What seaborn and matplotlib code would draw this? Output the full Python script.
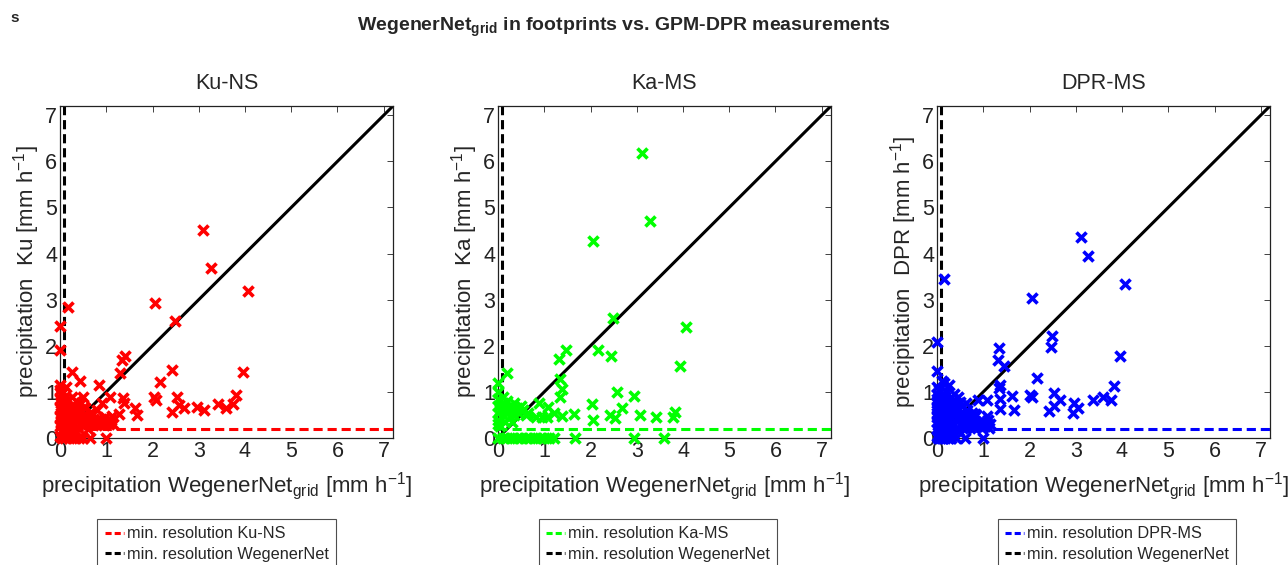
import matplotlib
matplotlib.use("Agg")
import matplotlib.pyplot as plt
import seaborn as sns
import pandas as pd
from matplotlib.lines import Line2D

# ---- data ----
products = ["Ku-NS", "Ka-MS", "DPR-MS"]
short_names = ["Ku", "Ka", "DPR"]
colors = ["#ff0000", "#00ff00", "#0000ff"]
min_res_product = [0.2, 0.2, 0.2]
min_res_wegenernet = 0.08

wegenernet_ku = [3.10, 3.27, 4.06, 2.05, 2.49, 0.17, 0.00, 0.00, 1.40, 1.34, 1.30, 2.43, 0.27, 0.43,
                 0.85, 2.16, 3.96, 1.09, 0.91, 1.36, 1.38, 0.49, 2.03, 2.07, 2.54, 2.43, 2.57, 2.68,
                 2.97, 3.12, 3.41, 3.59, 3.75, 3.80, 1.63, 1.67, 1.27, 0.64, 1.00,
                 0.00, 0.00, 0.02, 0.00, 0.03, 0.00, 0.02, 0.00, 0.03, 0.00, 0.02, 0.00, 0.05, 0.10,
                 0.20, 0.30, 0.40, 0.50, 0.06, 0.08, 0.10, 0.15, 0.20, 0.25, 0.30, 0.35, 0.15, 0.20,
                 0.30, 0.40, 0.45, 0.50, 0.55, 0.60, 0.65, 0.70, 0.75, 0.80, 0.85, 0.90, 0.95, 1.00,
                 1.05, 1.10, 1.15, 0.55, 0.45, 0.35, 0.25, 0.12, 0.18, 0.25, 0.35, 0.40, 0.12, 0.70,
                 0.80, 0.60, 0.65, 0.38, 0.52, 0.58,
                 0.08, 0.12, 0.16, 0.22, 0.28, 0.33, 0.05, 0.10, 0.14, 0.26, 0.42, 0.48, 0.62, 0.72,
                 0.88, 0.98, 1.12, 0.04, 0.09, 0.18, 0.24]
ku = [4.52, 3.69, 3.19, 2.93, 2.53, 2.85, 2.43, 1.90, 1.77, 1.70, 1.41, 1.47, 1.43, 1.24,
      1.14, 1.21, 1.43, 0.88, 0.75, 0.86, 0.75, 0.88, 0.89, 0.82, 0.88, 0.57, 0.71, 0.64,
      0.67, 0.60, 0.73, 0.66, 0.73, 0.93, 0.64, 0.50, 0.53, 0.00, 0.00,
      1.15, 1.05, 0.95, 0.85, 0.75, 0.65, 0.55, 0.45, 0.35, 0.25, 0.15, 0.05, 0.00, 0.00,
      0.00, 0.00, 0.00, 0.00, 1.00, 0.80, 0.60, 0.70, 0.55, 0.65, 0.50, 0.60, 0.45, 0.35,
      0.30, 0.45, 0.35, 0.50, 0.40, 0.30, 0.45, 0.35, 0.30, 0.40, 0.30, 0.35, 0.28, 0.35,
      0.30, 0.40, 0.30, 0.65, 0.75, 0.80, 0.90, 0.20, 0.10, 0.15, 0.10, 0.20, 1.10, 0.55,
      0.60, 0.20, 0.54, 0.62, 0.68, 0.42,
      0.40, 0.30, 0.55, 0.45, 0.72, 0.38, 0.62, 0.88, 0.28, 0.58, 0.62, 0.30, 0.38, 0.28,
      0.42, 0.45, 0.48, 0.30, 0.48, 0.82, 0.28]

wegenernet_ka = [3.11, 3.28, 2.06, 2.49, 4.07, 1.46, 1.31, 2.17, 2.45, 0.19, 0.00, 1.35, 1.38, 1.35,
                 2.57, 2.94, 2.04, 2.06, 2.69, 2.43, 2.54, 3.07, 3.41, 3.78, 3.83, 3.94, 1.64, 1.38,
                 0.88, 1.09, 1.20, 0.83, 0.95, 1.05, 1.67, 2.94, 3.58,
                 0.00, 0.10, 0.20, 0.30, 0.40, 0.50, 0.60, 0.70, 0.80, 0.90, 1.00, 1.10, 1.20,
                 0.00, 0.00, 0.00, 0.00, 0.00, 0.05, 0.05, 0.10, 0.10, 0.15, 0.15, 0.20, 0.20,
                 0.25, 0.25, 0.30, 0.35, 0.35, 0.40, 0.45, 0.50, 0.55, 0.60, 0.65, 0.30, 0.05,
                 0.10, 0.00]
ka = [6.19, 4.71, 4.27, 2.60, 2.40, 1.90, 1.72, 1.91, 1.77, 1.41, 1.19, 1.29, 1.07, 0.88,
      1.00, 0.91, 0.73, 0.40, 0.66, 0.50, 0.44, 0.50, 0.46, 0.46, 0.57, 1.57, 0.53, 0.47,
      0.76, 0.67, 0.55, 0.45, 0.45, 0.45, 0.00, 0.00, 0.00,
      0.00, 0.00, 0.00, 0.00, 0.00, 0.00, 0.00, 0.00, 0.00, 0.00, 0.00, 0.00, 0.00,
      0.85, 0.70, 0.55, 0.40, 0.30, 0.80, 0.60, 0.75, 0.50, 0.65, 0.35, 0.80, 0.55,
      0.70, 0.45, 0.60, 0.75, 0.50, 0.65, 0.55, 0.70, 0.60, 0.50, 0.55, 0.35, 0.25,
      0.90, 1.00]

wegenernet_dpr = [3.11, 3.27, 4.07, 2.06, 0.15, 2.49, 2.46, 1.33, 0.00, 1.31, 1.44, 2.17, 0.00, 0.10,
                  0.25, 1.37, 1.35, 1.62, 2.02, 2.06, 2.54, 2.67, 2.53, 2.42, 2.96, 3.04, 2.95, 3.38,
                  3.58, 3.76, 3.82, 3.96, 1.37, 1.37, 1.66, 1.08, 0.88, 0.46, 0.50, 0.37, 0.61, 0.99,
                  0.00, 0.00, 0.00, 0.00, 0.00, 0.00, 0.00, 0.00, 0.00, 0.00, 0.05, 0.05, 0.05, 0.05,
                  0.05, 0.10, 0.10, 0.10, 0.10, 0.10, 0.15, 0.15, 0.15, 0.15, 0.20, 0.20, 0.20, 0.20,
                  0.25, 0.25, 0.25, 0.30, 0.30, 0.30, 0.35, 0.40, 0.45, 0.50, 0.55, 0.60, 0.65, 0.70,
                  0.75, 0.80, 0.85, 0.90, 0.95, 1.00, 1.05, 1.10, 1.15, 0.55, 0.65, 0.75, 0.85, 0.30,
                  0.40, 0.20, 0.05, 0.15,
                  0.02, 0.03, 0.07, 0.08, 0.12, 0.13, 0.17, 0.18, 0.22, 0.23, 0.27, 0.28, 0.32, 0.33,
                  0.02, 0.07, 0.12, 0.18, 0.23, 0.28, 0.34, 0.38, 0.43, 0.48, 0.53, 0.58, 0.63, 0.68,
                  0.72, 0.78, 0.83, 0.92, 0.97, 1.03, 1.08, 1.13, 0.42, 0.62, 0.36, 0.47]
dpr = [4.35, 3.94, 3.33, 3.03, 3.44, 2.22, 1.98, 1.96, 2.08, 1.70, 1.57, 1.31, 1.45, 1.24,
       1.14, 1.14, 1.09, 0.91, 0.93, 0.89, 0.98, 0.83, 0.69, 0.59, 0.76, 0.64, 0.55, 0.83,
       0.88, 0.83, 1.12, 1.77, 0.85, 0.63, 0.60, 0.82, 0.82, 0.89, 0.78, 0.82, 0.00, 0.00,
       1.10, 0.95, 0.85, 0.75, 0.65, 0.55, 0.45, 0.35, 0.20, 0.05, 0.90, 0.70, 0.50, 0.30,
       0.10, 0.85, 0.60, 0.40, 0.20, 0.00, 0.75, 0.55, 0.35, 0.15, 0.80, 0.50, 0.25, 0.05,
       0.65, 0.40, 0.10, 0.70, 0.45, 0.20, 0.55, 0.60, 0.40, 0.50, 0.35, 0.45, 0.30, 0.40,
       0.30, 0.45, 0.35, 0.30, 0.40, 0.35, 0.30, 0.40, 0.30, 0.70, 0.60, 0.55, 0.50, 0.00,
       0.00, 1.00, 1.05, 1.20,
       0.62, 0.28, 0.78, 0.12, 0.68, 0.28, 0.45, 0.88, 0.62, 0.08, 0.82, 0.30, 0.62, 0.08,
       0.00, 0.00, 0.00, 0.00, 0.00, 0.00, 0.25, 0.52, 0.22, 0.62, 0.25, 0.48, 0.22, 0.52,
       0.22, 0.25, 0.52, 0.25, 0.22, 0.25, 0.48, 0.22, 0.70, 0.75, 0.95, 0.15]

xs = [wegenernet_ku, wegenernet_ka, wegenernet_dpr]
ys = [ku, ka, dpr]

# ---- style ----
sns.set_style("white")
plt.rcParams["font.family"] = ["Liberation Sans", "DejaVu Sans"]
plt.rcParams["mathtext.default"] = "regular"

fig = plt.figure(figsize=(12.88, 5.65), dpi=100)
lefts = [60, 498, 937]
legend_x = [0.47, 0.48, 0.54]

for i in range(3):
    ax = fig.add_axes([lefts[i] / 1288, 127 / 565, 333 / 1288, 332 / 565])
    df = pd.DataFrame({"x": xs[i], "y": ys[i]})

    ax.axline((0, 0), slope=1, color="black", lw=2.2, zorder=1)
    ax.axhline(min_res_product[i], color=colors[i], lw=2.2, ls=(0, (3, 1.6)), zorder=1)
    ax.axvline(min_res_wegenernet, color="black", lw=2.2, ls=(0, (3, 1.6)), zorder=1)

    sns.scatterplot(data=df, x="x", y="y", ax=ax, marker="x", color=colors[i],
                    s=52, linewidth=2.6, clip_on=False, zorder=3)

    ax.set_xlim(0, 7.2)
    ax.set_ylim(0, 7.2)
    ax.set_xticks(range(8))
    ax.set_yticks(range(8))
    ax.tick_params(direction="in", top=True, right=True, length=4, width=0.6,
                   labelsize=15.5, pad=2, colors="#222222")
    for sp in ax.spines.values():
        sp.set_color("#222222")
        sp.set_linewidth(0.9)

    ax.set_title(products[i], fontsize=15.5, pad=12)
    ax.set_xlabel(r"precipitation WegenerNet$_{grid}$ [mm h$^{-1}$]", fontsize=16, labelpad=6)
    ax.set_ylabel(f"precipitation  {short_names[i]} [mm h$^{{-1}}$]", fontsize=16, labelpad=2)

    handles = [Line2D([], [], color=colors[i], lw=2.2, ls=(0, (2, 1))),
               Line2D([], [], color="black", lw=2.2, ls=(0, (2, 1)))]
    labels = [f"min. resolution {products[i]}", "min. resolution WegenerNet"]
    leg = ax.legend(handles, labels, loc="upper center", bbox_to_anchor=(legend_x[i], -0.244),
                    fontsize=11.7, frameon=True, fancybox=False, edgecolor="#222222",
                    handlelength=1.2, handletextpad=0.15, labelspacing=0.35, borderpad=0.45,
                    borderaxespad=0)
    leg.get_frame().set_linewidth(0.8)

fig.text(10 / 1288, 1 - 18 / 565, "s", fontsize=11, fontweight="bold", va="center")
fig.text(624 / 1288, 1 - 27 / 565, r"WegenerNet$_{grid}$ in footprints vs. GPM-DPR measurements",
         fontsize=14, fontweight="bold", ha="center", va="center")

fig.savefig("out.png", dpi=100)
